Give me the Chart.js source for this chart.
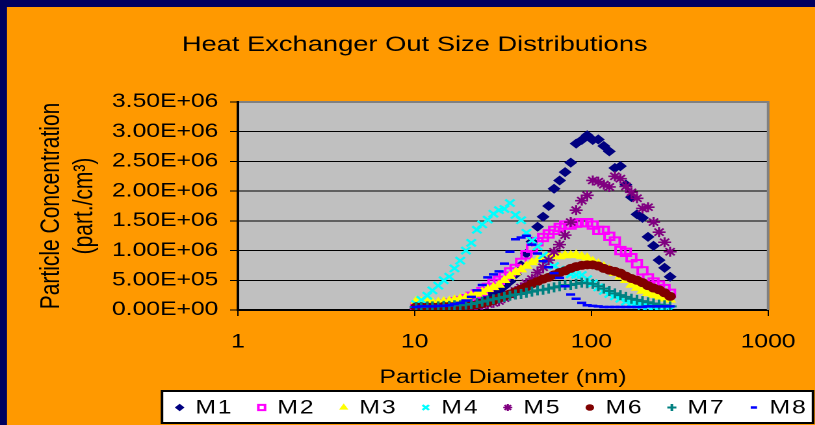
<!DOCTYPE html>
<html>
<head>
<meta charset="utf-8">
<script src="https://cdn.jsdelivr.net/npm/chart.js@4"></script>
<style>
  body { margin: 0; background: #FF9900; overflow: hidden; }
  /* the original slide is stretched sideways, so the whole canvas is too */
  #chart { display: block; transform: scaleX(1.3); transform-origin: 0 0; }
</style>
</head>
<body>
<canvas id="chart" width="627" height="425"></canvas>
<script>
// particle diameters (nm), SMPS channels
const diameters = [10.2, 10.9, 11.8, 12.6, 13.6, 14.6, 15.7, 16.8, 18.1, 19.5,
  20.9, 22.5, 24.1, 25.9, 27.9, 30.0, 32.2, 34.6, 37.2, 40.0,
  42.9, 46.1, 49.6, 53.3, 57.3, 61.5, 66.1, 71.0, 76.4, 82.0,
  88.2, 94.7, 101.8, 109.4, 117.6, 126.3, 135.8, 145.9, 156.8, 168.5,
  181.1, 194.6, 209.1, 224.7, 241.4, 259.5, 278.8];

// concentrations in millions of part./cm3
const m1 = [0.02, 0.03, 0.04, 0.05, 0.06, 0.07, 0.08, 0.10, 0.12, 0.14,
  0.16, 0.19, 0.21, 0.24, 0.27, 0.32, 0.40, 0.48, 0.60, 0.75,
  0.95, 1.15, 1.40, 1.57, 1.75, 2.04, 2.18, 2.32, 2.48, 2.80,
  2.86, 2.94, 2.86, 2.87, 2.76, 2.67, 2.39, 2.42, 2.11, 1.90,
  1.61, 1.55, 1.23, 1.08, 0.84, 0.71, 0.56];
const m2 = [0.05, 0.06, 0.07, 0.08, 0.09, 0.10, 0.12, 0.14, 0.16, 0.19,
  0.23, 0.27, 0.31, 0.38, 0.45, 0.50, 0.57, 0.64, 0.70, 0.80,
  0.93, 1.04, 1.15, 1.22, 1.28, 1.34, 1.39, 1.43, 1.43, 1.46,
  1.47, 1.47, 1.43, 1.34, 1.34, 1.24, 1.16, 1.00, 0.97, 0.88,
  0.78, 0.66, 0.54, 0.47, 0.42, 0.36, 0.28];
const m3 = [0.15, 0.14, 0.13, 0.13, 0.13, 0.14, 0.15, 0.17, 0.19, 0.21,
  0.24, 0.27, 0.30, 0.35, 0.38, 0.42, 0.50, 0.57, 0.63, 0.68,
  0.74, 0.80, 0.84, 0.87, 0.88, 0.90, 0.90, 0.92, 0.92, 0.93,
  0.90, 0.88, 0.82, 0.78, 0.73, 0.68, 0.62, 0.56, 0.50, 0.42,
  0.37, 0.32, 0.28, 0.25, 0.22, 0.19, 0.17];
const m4 = [0.10, 0.17, 0.24, 0.33, 0.41, 0.50, 0.56, 0.70, 0.83, 1.00,
  1.13, 1.35, 1.44, 1.52, 1.62, 1.68, 1.70, 1.80, 1.60, 1.51,
  1.30, 1.17, 1.07, 0.92, 0.80, 0.74, 0.68, 0.63, 0.60, 0.59,
  0.59, 0.52, 0.45, 0.38, 0.32, 0.27, 0.23, 0.19, 0.14, 0.11,
  0.09, 0.07, 0.06, 0.05, 0.03, 0.02, 0.01];
const m5 = [0.02, 0.02, 0.02, 0.03, 0.03, 0.03, 0.04, 0.04, 0.05, 0.05,
  0.06, 0.07, 0.08, 0.10, 0.12, 0.15, 0.20, 0.26, 0.32, 0.38,
  0.45, 0.52, 0.63, 0.72, 0.84, 0.98, 1.10, 1.26, 1.48, 1.68,
  1.84, 1.93, 2.18, 2.16, 2.11, 2.07, 2.25, 2.21, 2.08, 1.98,
  1.88, 1.71, 1.73, 1.48, 1.31, 1.14, 0.98];
const m6 = [0.05, 0.05, 0.05, 0.05, 0.05, 0.06, 0.06, 0.06, 0.07, 0.07,
  0.08, 0.09, 0.11, 0.13, 0.16, 0.20, 0.23, 0.27, 0.31, 0.35,
  0.39, 0.44, 0.48, 0.52, 0.55, 0.59, 0.63, 0.66, 0.70, 0.73,
  0.75, 0.76, 0.76, 0.74, 0.70, 0.67, 0.65, 0.62, 0.57, 0.53,
  0.50, 0.46, 0.41, 0.37, 0.34, 0.29, 0.23];
const m7 = [0.05, 0.05, 0.06, 0.06, 0.06, 0.07, 0.07, 0.08, 0.08, 0.09,
  0.10, 0.12, 0.14, 0.16, 0.18, 0.20, 0.22, 0.24, 0.26, 0.27,
  0.29, 0.31, 0.33, 0.34, 0.36, 0.38, 0.40, 0.42, 0.42, 0.44,
  0.46, 0.45, 0.44, 0.40, 0.36, 0.32, 0.28, 0.25, 0.22, 0.19,
  0.17, 0.15, 0.13, 0.11, 0.09, 0.08, 0.06];
const m8 = [0.05, 0.06, 0.06, 0.06, 0.07, 0.07, 0.08, 0.10, 0.12, 0.16,
  0.22, 0.33, 0.42, 0.55, 0.60, 0.65, 0.78, 0.98, 1.19, 1.22,
  1.25, 1.10, 0.95, 0.82, 0.72, 0.62, 0.54, 0.40, 0.26, 0.19,
  0.12, 0.08, 0.07, 0.06, 0.05, 0.05, 0.05, 0.05, 0.05, 0.05,
  0.05, 0.05, 0.06, 0.06, 0.06, 0.06, 0.06];

const seriesNames = ['M1', 'M2', 'M3', 'M4', 'M5', 'M6', 'M7', 'M8'];
const seriesValues = [m1, m2, m3, m4, m5, m6, m7, m8];
const xTicks = [1, 10, 100, 1000];
const yMax = 3500000;
const yStep = 500000;

// marker look per series, Excel style
const markers = [
  { color: '#000080', style: 'rectRot', radius: 4.3, fill: true, width: 1 },
  { color: '#FF00FF', style: 'rect', radius: 5.2, fill: false, width: 2 },
  { color: '#FFFF00', style: 'triangle', radius: 4.5, fill: true, width: 1 },
  { color: '#00FFFF', style: 'crossRot', radius: 5, fill: false, width: 2 },
  { color: '#800080', style: 'star', radius: 5, fill: false, width: 1.6 },
  { color: '#800000', style: 'circle', radius: 4, fill: true, width: 1 },
  { color: '#008080', style: 'cross', radius: 5, fill: false, width: 2 },
  { color: '#0000FF', style: 'line', radius: 3.5, fill: false, width: 2.5 },
];

const FONT = '"Liberation Sans", Arial, sans-serif';

function sci(v) {
  // 3500000 -> 3.50E+06
  const [mant, exp] = v.toExponential(2).split('e');
  const n = parseInt(exp, 10);
  return mant.toUpperCase() + 'E' + (n < 0 ? '-' : '+') + String(Math.abs(n)).padStart(2, '0');
}

const datasets = seriesValues.map((vals, i) => ({
  label: seriesNames[i],
  data: vals.map((v, j) => ({ x: diameters[j], y: v * 1e6 })),
  pointStyle: markers[i].style,
  pointRadius: markers[i].radius,
  pointBorderWidth: markers[i].width,
  pointBorderColor: markers[i].color,
  pointBackgroundColor: markers[i].fill ? markers[i].color : 'rgba(0,0,0,0)',
  showLine: false,
  order: seriesNames.length - 1 - i, // later series on top
}));

const framePlugin = {
  id: 'frame',
  beforeDraw(chart) {
    const { ctx, chartArea: a } = chart;
    ctx.save();
    ctx.fillStyle = '#FF9900';
    ctx.fillRect(0, 0, chart.width, chart.height);
    ctx.fillStyle = '#000060';
    ctx.fillRect(0, 0, chart.width, 7);
    ctx.fillRect(0, 0, 5.4, chart.height);
    ctx.fillStyle = '#C0C0C0';
    ctx.fillRect(a.left, a.top, a.right - a.left, a.bottom - a.top);
    ctx.restore();
  },
  afterDraw(chart) {
    const { ctx, chartArea: a } = chart;
    ctx.save();
    // right border of plot area
    ctx.strokeStyle = '#808080';
    ctx.lineWidth = 2;
    ctx.beginPath();
    ctx.moveTo(a.right, a.top - 1);
    ctx.lineTo(a.right, a.bottom);
    ctx.stroke();

    // title
    ctx.fillStyle = '#000';
    ctx.font = '21px ' + FONT;
    ctx.textAlign = 'center';
    ctx.textBaseline = 'middle';
    ctx.fillText('Heat Exchanger Out Size Distributions', 319, 45);

    // legend box
    ctx.fillStyle = '#fff';
    ctx.fillRect(124.6, 391, 500.8, 32);
    ctx.strokeStyle = '#000';
    ctx.lineWidth = 2;
    ctx.strokeRect(124.6, 391, 500.8, 32);
    ctx.font = '19px ' + FONT;
    ctx.textAlign = 'left';
    ctx.letterSpacing = '1.5px';
    chart.data.datasets.forEach((ds, i) => {
      const mk = markers[i];
      const x = 138.2 + 63.1 * i;
      const y = 407.5;
      ctx.fillStyle = mk.fill ? mk.color : '#fff';
      ctx.strokeStyle = mk.color;
      ctx.lineWidth = mk.width;
      Chart.helpers.drawPoint(ctx, {
        pointStyle: mk.style, radius: mk.radius * 0.7, rotation: 0, borderWidth: mk.width,
      }, x, y);
      ctx.fillStyle = '#000';
      ctx.fillText(ds.label, x + 12, y + 1);
    });
    ctx.restore();
  },
};

new Chart(document.getElementById('chart'), {
  type: 'scatter',
  data: { datasets },
  plugins: [framePlugin],
  options: {
    responsive: false,
    animation: false,
    devicePixelRatio: 2,
    layout: { padding: { left: 0, right: 31.6, top: 102, bottom: 35 } },
    plugins: { legend: { display: false }, tooltip: { enabled: false } },
    scales: {
      x: {
        type: 'logarithmic',
        min: 1,
        max: 1000,
        afterBuildTicks: (scale) => { scale.ticks = xTicks.map(v => ({ value: v })); },
        afterFit: (scale) => { scale.height = 80; },
        ticks: {
          color: '#000',
          font: { family: FONT, size: 19 },
          padding: 15,
          maxRotation: 0,
          autoSkip: false,
          callback: (v) => String(v),
        },
        grid: { drawOnChartArea: false, tickLength: 6, tickColor: '#000', tickWidth: 1 },
        border: { color: '#000', width: 2 },
        title: {
          display: true,
          text: 'Particle Diameter (nm)',
          color: '#000',
          font: { family: FONT, size: 19 },
          padding: { top: 0, bottom: 1 },
        },
      },
      y: {
        min: 0,
        max: yMax,
        afterFit: (scale) => { scale.width = 183; },
        ticks: {
          stepSize: yStep,
          color: '#000',
          font: { family: FONT, size: 19 },
          padding: 9,
          callback: (v) => sci(v),
        },
        grid: {
          color: (c) => (c.tick && c.tick.value === yMax ? '#808080' : '#000'),
          lineWidth: (c) => (c.tick && c.tick.value === yMax ? 2 : 1),
          tickLength: 6,
          tickColor: '#000',
          tickWidth: 1,
        },
        border: { color: '#000', width: 2 },
        title: {
          display: true,
          text: ['Particle Concentration', '(part./cm³)'],
          color: '#000',
          font: { family: FONT, size: 21, lineHeight: 1.21 },
          padding: { top: 27, bottom: 0 },
        },
      },
    },
  },
});
</script>
</body>
</html>
